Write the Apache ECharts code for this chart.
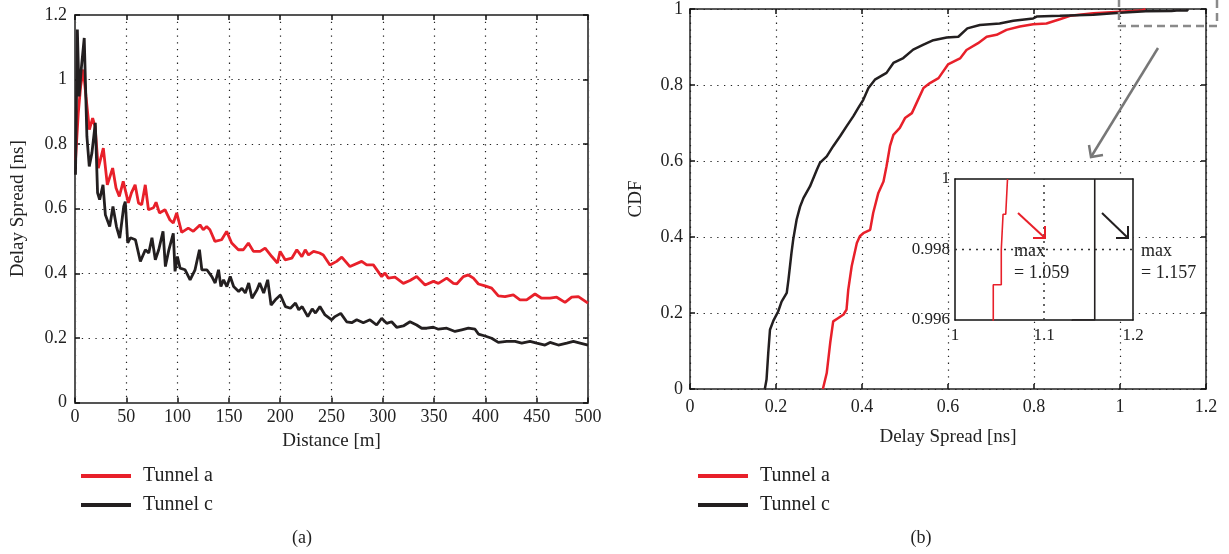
<!DOCTYPE html>
<html>
<head>
<meta charset="utf-8">
<script src="https://cdn.jsdelivr.net/npm/echarts@6/dist/echarts.min.js"></script>
<style>
  html, body { margin: 0; padding: 0; background: #fff; }
  #chart { width: 1229px; height: 554px; }
</style>
</head>
<body>
<div id="chart"></div>
<script>
// (a) delay spread versus distance
const distA = [0.5, 3.2, 5.5, 8.1, 10.7, 14, 17.2, 19.5, 22.7, 27.6, 31.5, 36.7, 40, 43.2, 47, 52, 55, 58.6, 61.9, 65, 68.5, 71.6, 76.5, 79, 82.3, 87.7, 92.6, 95.8, 99.1, 104, 110.4, 115.3, 121.8, 125, 128.3, 131.5, 136.4, 142.9, 147.8, 152.7, 159.2, 164.1, 169, 173.9, 180.4, 185.3, 191.8, 197.3, 199.9, 204.8, 211.3, 216.2, 221.1, 224.4, 227.6, 232.5, 238.4, 242, 248.5, 255, 260, 268, 279.4, 284.3, 290.8, 298.9, 302.1, 305.4, 311.9, 320, 326.5, 333, 341.2, 349.3, 354.2, 362.3, 368.8, 372, 378.5, 383.4, 388.3, 393.2, 399.6, 406.1, 412.6, 419.1, 427.2, 433.7, 440.2, 448.3, 454.8, 463, 469.5, 477.6, 484.1, 490.6, 500];
const spreadA = [0.75, 0.897, 0.979, 1.031, 0.948, 0.845, 0.881, 0.855, 0.726, 0.788, 0.674, 0.726, 0.664, 0.638, 0.685, 0.618, 0.649, 0.674, 0.618, 0.612, 0.674, 0.597, 0.603, 0.62, 0.587, 0.597, 0.565, 0.556, 0.587, 0.527, 0.54, 0.53, 0.55, 0.535, 0.545, 0.535, 0.499, 0.504, 0.53, 0.494, 0.473, 0.473, 0.494, 0.468, 0.468, 0.478, 0.452, 0.432, 0.468, 0.442, 0.447, 0.473, 0.452, 0.473, 0.457, 0.468, 0.463, 0.457, 0.426, 0.437, 0.45, 0.421, 0.437, 0.426, 0.426, 0.39, 0.401, 0.385, 0.388, 0.369, 0.378, 0.39, 0.364, 0.375, 0.369, 0.385, 0.369, 0.367, 0.39, 0.395, 0.385, 0.367, 0.361, 0.354, 0.33, 0.328, 0.333, 0.318, 0.318, 0.336, 0.323, 0.323, 0.326, 0.31, 0.326, 0.328, 0.308];

const distC = [0.5, 2.3, 4, 6.2, 7.5, 9, 11.6, 13.9, 16.5, 19.8, 22, 24, 27.3, 29.6, 33.8, 37, 40.4, 43.6, 47.5, 49, 51.4, 54, 58.9, 63.7, 68.6, 71.9, 75, 78.3, 81.6, 85.8, 88.1, 91.3, 95.8, 97.5, 99.8, 102.4, 107.3, 112.2, 117, 121.3, 123.6, 128.5, 133.4, 136.6, 139.9, 142.2, 144.8, 148, 151.3, 154.6, 159.5, 162.7, 166, 169.3, 172.5, 177.4, 180, 183.9, 187.8, 191.1, 195.3, 200.2, 205.1, 210, 214.9, 218.1, 221.4, 226.9, 231.2, 234.4, 238.7, 243.7, 250.2, 253.4, 259, 264.8, 269.7, 274.6, 281, 287.5, 294, 298.9, 303.8, 308.6, 313.5, 320, 326.5, 333, 337.9, 342.8, 349.3, 354.2, 362.3, 370.4, 376.9, 383.4, 389.9, 393.2, 399.6, 406.1, 412.6, 420.8, 428.9, 435.4, 443.5, 450, 458.1, 463, 471.1, 479.3, 485.8, 492.3, 500];
const spreadC = [0.705, 1.155, 0.948, 1.036, 1.03, 1.129, 0.824, 0.731, 0.773, 0.866, 0.649, 0.628, 0.674, 0.581, 0.545, 0.607, 0.545, 0.509, 0.607, 0.622, 0.494, 0.51, 0.504, 0.437, 0.473, 0.463, 0.51, 0.442, 0.473, 0.53, 0.421, 0.47, 0.524, 0.406, 0.452, 0.416, 0.411, 0.38, 0.411, 0.473, 0.411, 0.411, 0.39, 0.37, 0.411, 0.359, 0.38, 0.359, 0.39, 0.359, 0.344, 0.354, 0.339, 0.37, 0.323, 0.349, 0.37, 0.339, 0.38, 0.302, 0.318, 0.333, 0.297, 0.292, 0.308, 0.287, 0.297, 0.266, 0.29, 0.277, 0.297, 0.271, 0.256, 0.266, 0.276, 0.25, 0.247, 0.256, 0.247, 0.256, 0.24, 0.261, 0.245, 0.25, 0.233, 0.237, 0.25, 0.24, 0.23, 0.23, 0.233, 0.227, 0.23, 0.22, 0.225, 0.23, 0.227, 0.212, 0.206, 0.199, 0.186, 0.189, 0.189, 0.184, 0.189, 0.184, 0.178, 0.186, 0.178, 0.184, 0.189, 0.184, 0.178];

// (b) CDF of the delay spread
const cdfSpreadA = [0.309, 0.318, 0.326, 0.333, 0.345, 0.357, 0.364, 0.368, 0.376, 0.388, 0.395, 0.403, 0.419, 0.426, 0.438, 0.45, 0.457, 0.465, 0.473, 0.488, 0.5, 0.516, 0.527, 0.543, 0.558, 0.578, 0.6, 0.628, 0.643, 0.67, 0.69, 0.713, 0.736, 0.767, 0.798, 0.829, 0.86, 0.884, 0.938, 1.0, 1.03, 1.043, 1.043, 1.052, 1.052, 1.054, 1.054, 1.057, 1.059];
const cdfProbA = [0, 0.042, 0.121, 0.178, 0.187, 0.196, 0.209, 0.261, 0.323, 0.384, 0.402, 0.41, 0.419, 0.463, 0.516, 0.546, 0.586, 0.639, 0.669, 0.687, 0.713, 0.726, 0.753, 0.792, 0.805, 0.818, 0.854, 0.87, 0.892, 0.91, 0.927, 0.932, 0.945, 0.954, 0.96, 0.962, 0.973, 0.982, 0.989, 0.993, 0.995, 0.996, 0.997, 0.997, 0.998, 0.998, 0.999, 0.999, 1];

const cdfSpreadC = [0.174, 0.178, 0.182, 0.186, 0.194, 0.205, 0.213, 0.225, 0.229, 0.236, 0.24, 0.248, 0.256, 0.264, 0.279, 0.295, 0.302, 0.318, 0.333, 0.349, 0.364, 0.38, 0.391, 0.403, 0.415, 0.43, 0.457, 0.473, 0.496, 0.519, 0.543, 0.566, 0.597, 0.624, 0.645, 0.674, 0.72, 0.752, 0.798, 0.806, 0.86, 0.938, 1.0, 1.06, 1.12, 1.132, 1.157, 1.157];
const cdfProbC = [0, 0.025, 0.095, 0.156, 0.18, 0.204, 0.23, 0.253, 0.288, 0.358, 0.393, 0.446, 0.48, 0.503, 0.533, 0.577, 0.595, 0.612, 0.639, 0.665, 0.691, 0.718, 0.739, 0.761, 0.792, 0.814, 0.832, 0.858, 0.871, 0.893, 0.906, 0.918, 0.925, 0.927, 0.949, 0.958, 0.962, 0.969, 0.975, 0.98, 0.982, 0.985, 0.99, 0.994, 0.995, 0.996, 0.996, 1];

// zoomed view: its range and the one interior grid line in each direction
const insetSpreadRange = [1, 1.2];
const insetProbRange = [0.996, 1];
const insetGridSpread = 1.1;
const insetGridProb = 0.998;

const seriesNames = ['Tunnel a', 'Tunnel c'];
const captions = ['(a)', '(b)'];

const RED = '#e8202a';
const BLACK = '#231f20';
const FONT = '"Liberation Serif", "DejaVu Serif", serif';
const TEXT = '#222';

const zip = (xs, ys) => xs.map((x, i) => [x, ys[i]]);
const maxA = Math.max(...cdfSpreadA).toFixed(3);
const maxC = Math.max(...cdfSpreadC).toFixed(3);

const dotted = { color: '#222', width: 1.2, type: [1.3, 5.5] };

function axis(grid, min, max, interval, o) {
  const a = {
    type: 'value', gridIndex: grid, min: min, max: max, interval: interval,
    position: o.position,
    z: o.z || 0,
    axisLine: { show: true, onZero: false, lineStyle: { color: o.lineColor || '#333', width: o.lineWidth || 1.5 } },
    axisTick: { show: o.ticks !== false, inside: true, length: 5, lineStyle: { color: '#111', width: 1.5 } },
    axisLabel: o.labels === false ? { show: false } :
      { show: true, fontFamily: FONT, fontSize: o.fontSize || 18, color: TEXT, margin: o.margin || 8 },
    splitLine: o.split ? { show: true, lineStyle: dotted } : { show: false }
  };
  if (o.name) {
    a.name = o.name;
    a.nameLocation = 'middle';
    a.nameGap = o.nameGap;
    a.nameTextStyle = { fontFamily: FONT, fontSize: 19, color: TEXT };
  }
  return a;
}

const leftLine = '#555';
const rightLine = '#222';

const xAxes = [
  axis(0, 0, 500, 50, { position: 'bottom', split: true, name: 'Distance [m]', nameGap: 25, lineColor: leftLine, lineWidth: 2, margin: 6 }),
  axis(0, 0, 500, 50, { position: 'top', labels: false, lineColor: leftLine, lineWidth: 2 }),
  axis(1, 0, 1.2, 0.2, { position: 'bottom', split: true, name: 'Delay Spread [ns]', nameGap: 39, lineColor: rightLine, margin: 9 }),
  axis(1, 0, 1.2, 0.2, { position: 'top', labels: false, lineColor: rightLine }),
  axis(2, insetSpreadRange[0], insetSpreadRange[1], 0.1, { position: 'bottom', ticks: false, fontSize: 17, margin: 7, lineColor: '#111', z: 10 }),
  axis(2, insetSpreadRange[0], insetSpreadRange[1], 0.1, { position: 'top', labels: false, ticks: false, lineColor: '#111', z: 10 })
];
const yAxes = [
  axis(0, 0, 1.2, 0.2, { position: 'left', split: true, name: 'Delay Spread [ns]', nameGap: 47, lineColor: leftLine, lineWidth: 2, margin: 8 }),
  axis(0, 0, 1.2, 0.2, { position: 'right', labels: false, lineColor: leftLine, lineWidth: 2 }),
  axis(1, 0, 1, 0.2, { position: 'left', split: true, name: 'CDF', nameGap: 44, lineColor: rightLine, margin: 7 }),
  axis(1, 0, 1, 0.2, { position: 'right', labels: false, lineColor: rightLine }),
  axis(2, insetProbRange[0], insetProbRange[1], 0.002, { position: 'left', ticks: false, fontSize: 17, margin: 5, lineColor: '#111', z: 10 }),
  axis(2, insetProbRange[0], insetProbRange[1], 0.002, { position: 'right', labels: false, ticks: false, lineColor: '#111', z: 10 })
];

function line(name, color, xi, yi, data, width, z, dash) {
  return {
    type: 'line', name: name, xAxisIndex: xi, yAxisIndex: yi, data: data,
    symbol: 'none', showSymbol: false, clip: true, animation: false, silent: !!dash,
    lineStyle: { color: color, width: width, type: dash || 'solid' }, itemStyle: { color: color }, z: z
  };
}

const legendBase = {
  orient: 'vertical', icon: 'rect', itemWidth: 50, itemHeight: 4, itemGap: 9,
  data: seriesNames,
  textStyle: { fontFamily: FONT, fontSize: 20, color: TEXT, lineHeight: 20, padding: [0, 0, 0, 7] }
};

const arrowStyle = (c, w) => ({ stroke: c, lineWidth: w, fill: null, lineCap: 'butt', lineJoin: 'miter' });
const txt = (x, y, s, size, align) => ({
  type: 'text', x: x, y: y, z: 20,
  style: { text: s, fontFamily: FONT, fontSize: size, fill: TEXT, align: align || 'left', verticalAlign: 'middle', lineHeight: 22 }
});

const option = {
  backgroundColor: '#fff',
  animation: false,
  textStyle: { fontFamily: FONT },
  grid: [
    { left: 75, top: 15, width: 513, height: 387.5 },
    { left: 690, top: 9, width: 516, height: 380 },
    // zoomed view sits on its own white panel above the main plot's grid lines
    { left: 955, top: 179, width: 178, height: 141, show: true, backgroundColor: '#fff', borderWidth: 0, z: 5 }
  ],
  xAxis: xAxes,
  yAxis: yAxes,
  legend: [
    Object.assign({ left: 76, top: 461 }, legendBase),
    Object.assign({ left: 693, top: 461 }, legendBase)
  ],
  series: [
    line(seriesNames[0], RED, 0, 0, zip(distA, spreadA), 2.8, 3),
    line(seriesNames[1], BLACK, 0, 0, zip(distC, spreadC), 2.8, 3),
    line(seriesNames[0], RED, 2, 2, zip(cdfSpreadA, cdfProbA), 2.5, 3),
    line(seriesNames[1], BLACK, 2, 2, zip(cdfSpreadC, cdfProbC), 2.5, 3),
    // dotted grid lines of the zoomed view
    line('grid-x', '#333', 4, 4, [[insetGridSpread, insetProbRange[0]], [insetGridSpread, insetProbRange[1]]], 1.5, 11, [2, 5]),
    line('grid-y', '#333', 4, 4, [[insetSpreadRange[0], insetGridProb], [insetSpreadRange[1], insetGridProb]], 1.5, 11, [2, 5]),
    line(seriesNames[0], RED, 4, 4, zip(cdfSpreadA, cdfProbA), 1.6, 12),
    line(seriesNames[1], BLACK, 4, 4, zip(cdfSpreadC, cdfProbC), 1.6, 12)
  ],
  graphic: [
    // zoom region marker and pointer
    { type: 'rect', z: 20, shape: { x: 1119, y: -6, width: 98, height: 32 },
      style: { fill: null, stroke: '#8a8a8a', lineWidth: 2.5, lineDash: [8, 5] } },
    { type: 'line', z: 20, shape: { x1: 1158, y1: 48, x2: 1091, y2: 157 }, style: arrowStyle('#777', 2.5) },
    { type: 'polyline', z: 20, shape: { points: [[1089, 145], [1091, 157], [1103, 155]] }, style: arrowStyle('#777', 2.5) },
    // maxima annotations
    { type: 'line', z: 20, shape: { x1: 1018, y1: 213, x2: 1045, y2: 238 }, style: arrowStyle(RED, 2) },
    { type: 'polyline', z: 20, shape: { points: [[1033, 238], [1045, 238], [1045, 226]] }, style: arrowStyle(RED, 2) },
    { type: 'line', z: 20, shape: { x1: 1102, y1: 213, x2: 1128, y2: 238 }, style: arrowStyle(BLACK, 2) },
    { type: 'polyline', z: 20, shape: { points: [[1116, 238], [1128, 238], [1128, 226]] }, style: arrowStyle(BLACK, 2) },
    txt(1014, 262, 'max\n= ' + maxA, 18),
    txt(1141, 262, 'max\n= ' + maxC, 18),
    // panel captions
    txt(302, 538, captions[0], 18, 'center'),
    txt(921, 538, captions[1], 18, 'center')
  ]
};

const chart = echarts.init(document.getElementById('chart'), null, { renderer: 'canvas' });
chart.setOption(option);
</script>
</body>
</html>
